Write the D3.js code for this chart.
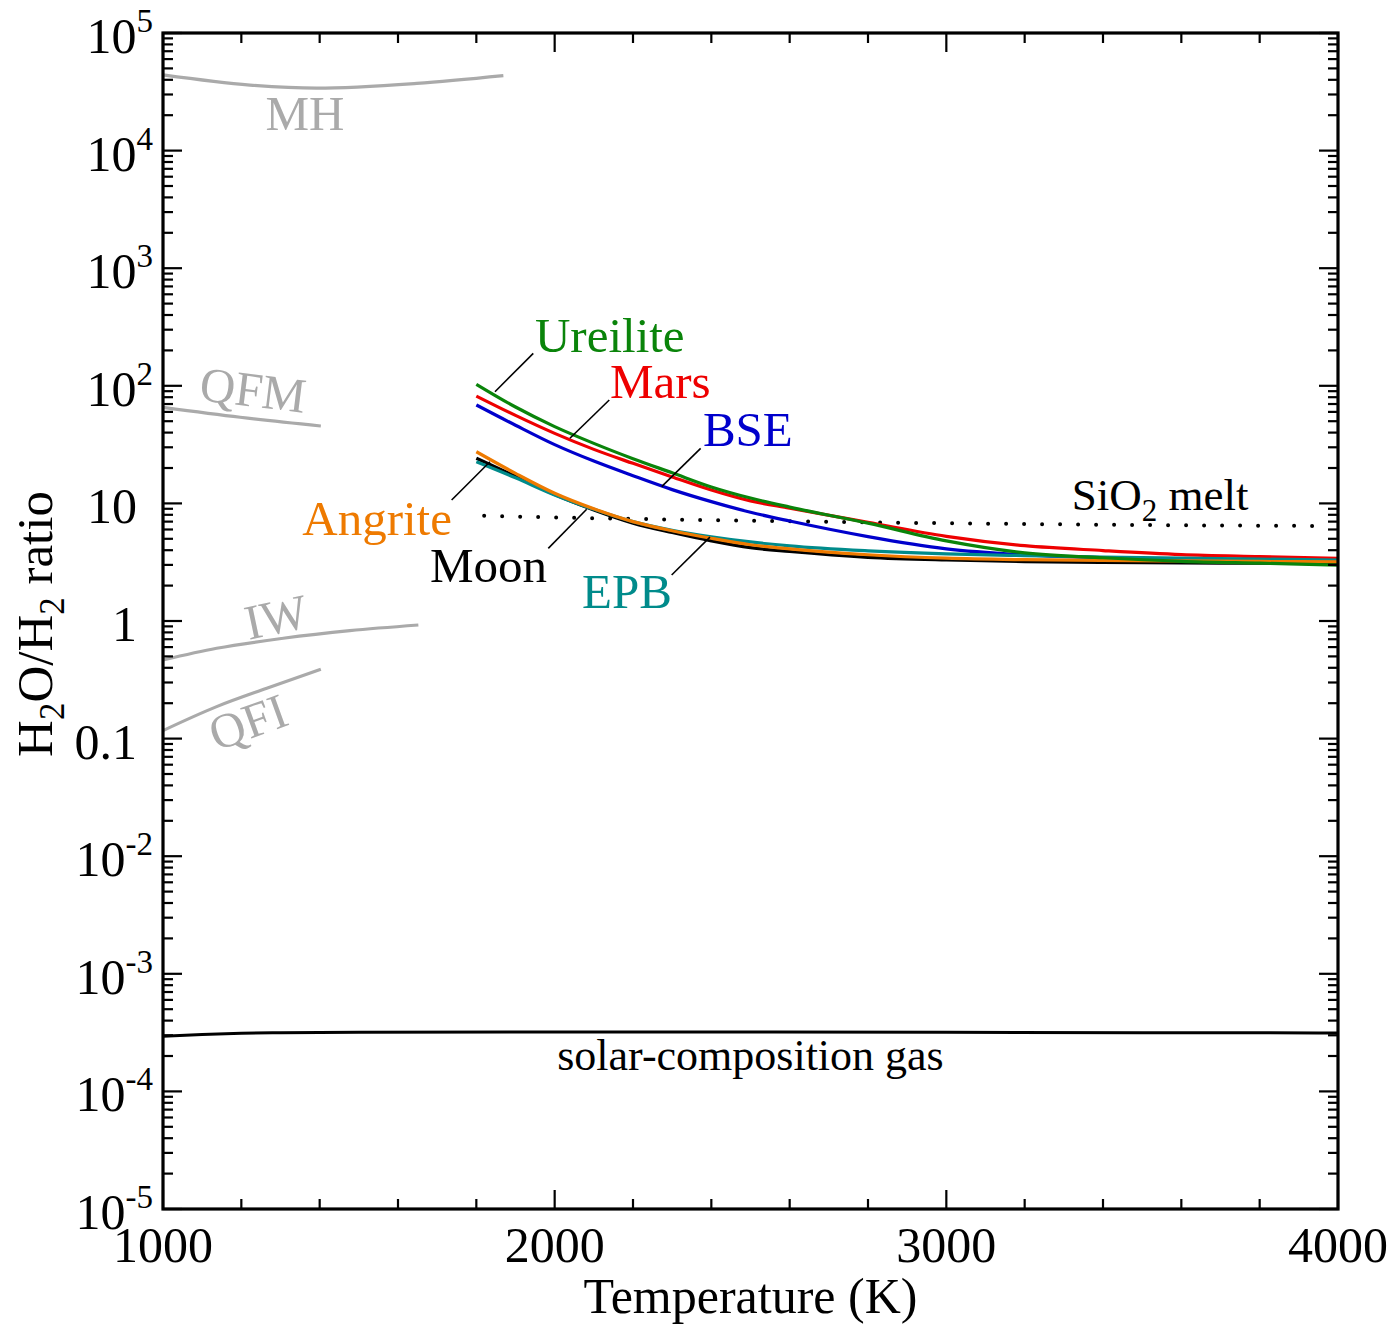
<!DOCTYPE html>
<html>
<head>
<meta charset="utf-8">
<script src="https://cdn.jsdelivr.net/npm/d3@7"></script>
<style>
  html, body { margin: 0; padding: 0; background: #fff; }
  svg { display: block; font-family: "Liberation Serif", "Times New Roman", serif; }
</style>
</head>
<body>
<svg id="chart" width="1392" height="1328"></svg>
<script>
// ---------------- DATA ----------------
const temps = [1800, 1900, 2000, 2100, 2200, 2300, 2400, 2500, 2600, 2800, 3000, 3200, 3400, 3600, 3800, 4000];
const ureilite = [103, 66, 45, 32.4, 24, 18.2, 13.8, 11.1, 9.3, 6.8, 4.8, 3.8, 3.45, 3.22, 3.10, 2.99];
const mars     = [81.8, 56, 39.4, 28.8, 21.9, 16.8, 13.0, 10.5, 9.1, 6.9, 5.25, 4.37, 3.97, 3.67, 3.53, 3.41];
const bse      = [68.7, 46.2, 31.6, 22.9, 17.2, 13.1, 10.35, 8.4, 7.08, 5.22, 4.11, 3.65, 3.45, 3.31, 3.24, 3.16];
const moon     = [24.2, 17.0, 11.9, 8.8, 6.8, 5.65, 4.8, 4.2, 3.9, 3.48, 3.30, 3.20, 3.15, 3.12, 3.10, 3.08];
const epb      = [22.6, 16.5, 11.8, 8.9, 7.0, 5.9, 5.2, 4.7, 4.35, 3.95, 3.72, 3.6, 3.5, 3.42, 3.36, 3.30];
const angrite  = [27.5, 18.0, 12.2, 9.0, 7.0, 5.85, 5.05, 4.45, 4.1, 3.66, 3.42, 3.32, 3.27, 3.24, 3.21, 3.18];

const sio2Temps  = [1820, 2000, 2500, 3000, 3500, 3960];
const sio2Values = [7.85, 7.6, 7.13, 6.78, 6.55, 6.43];

const solarTemps  = [1000, 1100, 1200, 1300, 1500, 2000, 2500, 3000, 3500, 4000];
const solarValues = [2.95e-4, 3.05e-4, 3.12e-4, 3.16e-4, 3.19e-4, 3.2e-4, 3.2e-4, 3.18e-4, 3.16e-4, 3.14e-4];

const mhTemps  = [1000, 1222, 1392, 1648, 1869];
const mhValues = [44000, 36100, 34000, 37300, 43400];
const qfmTemps  = [1000, 1197, 1403];
const qfmValues = [65.6, 54, 45.5];
const iwTemps  = [1000, 1137, 1307, 1477, 1652];
const iwValues = [0.466, 0.586, 0.713, 0.828, 0.925];
const qfiTemps  = [1000, 1137, 1265, 1403];
const qfiValues = [0.117, 0.187, 0.268, 0.388];

const xTickValues = [1000, 2000, 3000, 4000];
const xTickLabels = ["1000", "2000", "3000", "4000"];
const xMinorStep = 200;
const yTickValues = [1e5, 1e4, 1e3, 1e2, 10, 1, 0.1, 1e-2, 1e-3, 1e-4, 1e-5];
const yTickLabels = ["10^5", "10^4", "10^3", "10^2", "10", "1", "0.1", "10^-2", "10^-3", "10^-4", "10^-5"];

// curve labels (anchor in data space) and leader lines (data space)
const curveNames  = ["Ureilite", "Mars", "BSE", "Angrite", "Moon", "EPB"];
const curveColors = ["#0a840a", "#ee0000", "#0000cc", "#ee7a00", "#000000", "#008b8b"];
const labelT      = [1949.7, 2141, 2378.6, 1737.8, 1681.6, 2069.7];
const labelV      = [195, 78.3, 31.0, 5.38, 2.15, 1.284];
const labelAnchor = ["start", "start", "start", "end", "start", "start"];
const leaderT1 = [1847.6, 2039.0, 2273.2, 1737.0, 1983.7, 2298.7];
const leaderV1 = [89.1, 35.8, 13.9, 10.7, 4.15, 2.46];
const leaderT2 = [1945.4, 2139.4, 2372.7, 1834.8, 2081.7, 2396.5];
const leaderV2 = [188.8, 75.7, 29.4, 22.6, 8.91, 5.16];

const bufferNames = ["MH", "QFM", "IW", "QFI"];
const bufferT     = [1362.5, 1229.8, 1288.5, 1217];
const bufferV     = [14960, 92, 1.08, 0.138];
const bufferRot   = [0, 7, -12, -20];

// ---------------- CHART ----------------
const svg = d3.select("#chart");
const pL = 163, pR = 1338, pT = 33, pB = 1209;
const x = d3.scaleLinear().domain([1000, 4000]).range([pL, pR]);
const y = d3.scaleLog().domain([1e-5, 1e5]).range([pB, pT]);

const line = d3.line().x(d => x(d[0])).y(d => y(d[1])).curve(d3.curveMonotoneX);
const zip = (a, b) => a.map((t, i) => [t, b[i]]);

const plot = svg.append("g");
const grey = "#aaaaaa";

// buffer curves
[[mhTemps, mhValues], [qfmTemps, qfmValues], [iwTemps, iwValues], [qfiTemps, qfiValues]].forEach(([t, v]) => {
  plot.append("path").attr("d", line(zip(t, v)))
    .attr("fill", "none").attr("stroke", grey).attr("stroke-width", 3.2);
});
bufferNames.forEach((n, i) => {
  plot.append("text")
    .attr("transform", `translate(${x(bufferT[i])},${y(bufferV[i])}) rotate(${bufferRot[i]})`)
    .attr("text-anchor", "middle").attr("dominant-baseline", i === 0 ? "alphabetic" : "central")
    .attr("font-size", 49).attr("fill", grey).text(n);
});

// SiO2 melt dotted
plot.append("path").attr("d", line(zip(sio2Temps, sio2Values)))
  .attr("fill", "none").attr("stroke", "#000").attr("stroke-width", 4)
  .attr("stroke-linecap", "round").attr("stroke-dasharray", "0,18");

// solar gas
plot.append("path").attr("d", line(zip(solarTemps, solarValues)))
  .attr("fill", "none").attr("stroke", "#000").attr("stroke-width", 3);

// composition curves (draw order)
const series = { Ureilite: ureilite, Mars: mars, BSE: bse, Angrite: angrite, Moon: moon, EPB: epb };
const drawOrder = ["BSE", "Mars", "Moon", "EPB", "Angrite", "Ureilite"];
drawOrder.forEach(name => {
  const i = curveNames.indexOf(name);
  plot.append("path").attr("d", line(zip(temps, series[name])))
    .attr("fill", "none").attr("stroke", curveColors[i]).attr("stroke-width", 3.2);
});

// leaders and labels
curveNames.forEach((n, i) => {
  plot.append("line")
    .attr("x1", x(leaderT1[i])).attr("y1", y(leaderV1[i]))
    .attr("x2", x(leaderT2[i])).attr("y2", y(leaderV2[i]))
    .attr("stroke", "#000").attr("stroke-width", 1.6);
  plot.append("text").attr("x", x(labelT[i])).attr("y", y(labelV[i]))
    .attr("text-anchor", labelAnchor[i]).attr("font-size", 49)
    .attr("fill", curveColors[i]).text(n);
});

// SiO2 melt label
const sio = plot.append("text").attr("x", x(3320)).attr("y", y(8.79)).attr("font-size", 45).attr("fill", "#000");
sio.append("tspan").text("SiO");
sio.append("tspan").attr("font-size", 31).attr("dy", 11).text("2");
sio.append("tspan").attr("dy", -11).text(" melt");

// solar label
plot.append("text").attr("x", x(2500)).attr("y", y(1.52e-4)).attr("text-anchor", "middle")
  .attr("font-size", 44).attr("fill", "#000").text("solar-composition gas");

// ---------------- AXES ----------------
const ax = svg.append("g").attr("stroke", "#000");
const major = 19, minor = 10;
d3.range(1000, 4000 + 1, xMinorStep).forEach(t => {
  const len = xTickValues.includes(t) ? major : minor;
  ax.append("line").attr("x1", x(t)).attr("x2", x(t)).attr("y1", pB).attr("y2", pB - len).attr("stroke-width", 2.2);
  ax.append("line").attr("x1", x(t)).attr("x2", x(t)).attr("y1", pT).attr("y2", pT + len).attr("stroke-width", 2.2);
});
for (let e = -5; e <= 5; e++) {
  for (let m = 1; m <= 9; m++) {
    const v = m * Math.pow(10, e);
    if (v > 1e5 * 1.0001) continue;
    const len = m === 1 ? major : minor;
    ax.append("line").attr("y1", y(v)).attr("y2", y(v)).attr("x1", pL).attr("x2", pL + len).attr("stroke-width", 2.2);
    ax.append("line").attr("y1", y(v)).attr("y2", y(v)).attr("x1", pR).attr("x2", pR - len).attr("stroke-width", 2.2);
  }
}
svg.append("rect").attr("x", pL).attr("y", pT).attr("width", pR - pL).attr("height", pB - pT)
  .attr("fill", "none").attr("stroke", "#000").attr("stroke-width", 3.2);

// tick labels
const lab = svg.append("g").attr("fill", "#000").attr("font-size", 50);
xTickValues.forEach((t, i) => {
  lab.append("text").attr("x", x(t)).attr("y", 1262).attr("text-anchor", "middle").text(xTickLabels[i]);
});
yTickValues.forEach((v, i) => {
  const s = yTickLabels[i];
  const parts = s.split("^");
  const txt = lab.append("text").attr("y", y(v) + 20).attr("text-anchor", "end");
  if (parts.length === 2) {
    txt.attr("x", 153);
    txt.append("tspan").text(parts[0]);
    txt.append("tspan").attr("font-size", 33).attr("dy", -21).text(parts[1]);
  } else {
    txt.attr("x", 137).text(s);
  }
});

// axis titles
svg.append("text").attr("x", (pL + pR) / 2).attr("y", 1313).attr("text-anchor", "middle")
  .attr("font-size", 50).text("Temperature (K)");
const yt = svg.append("text").attr("transform", `translate(52,624) rotate(-90)`)
  .attr("text-anchor", "middle").attr("font-size", 51);
yt.append("tspan").text("H");
yt.append("tspan").attr("font-size", 35).attr("dy", 12).text("2");
yt.append("tspan").attr("dy", -12).text("O/H");
yt.append("tspan").attr("font-size", 35).attr("dy", 12).text("2");
yt.append("tspan").attr("dy", -12).text(" ratio");
</script>
</body>
</html>
